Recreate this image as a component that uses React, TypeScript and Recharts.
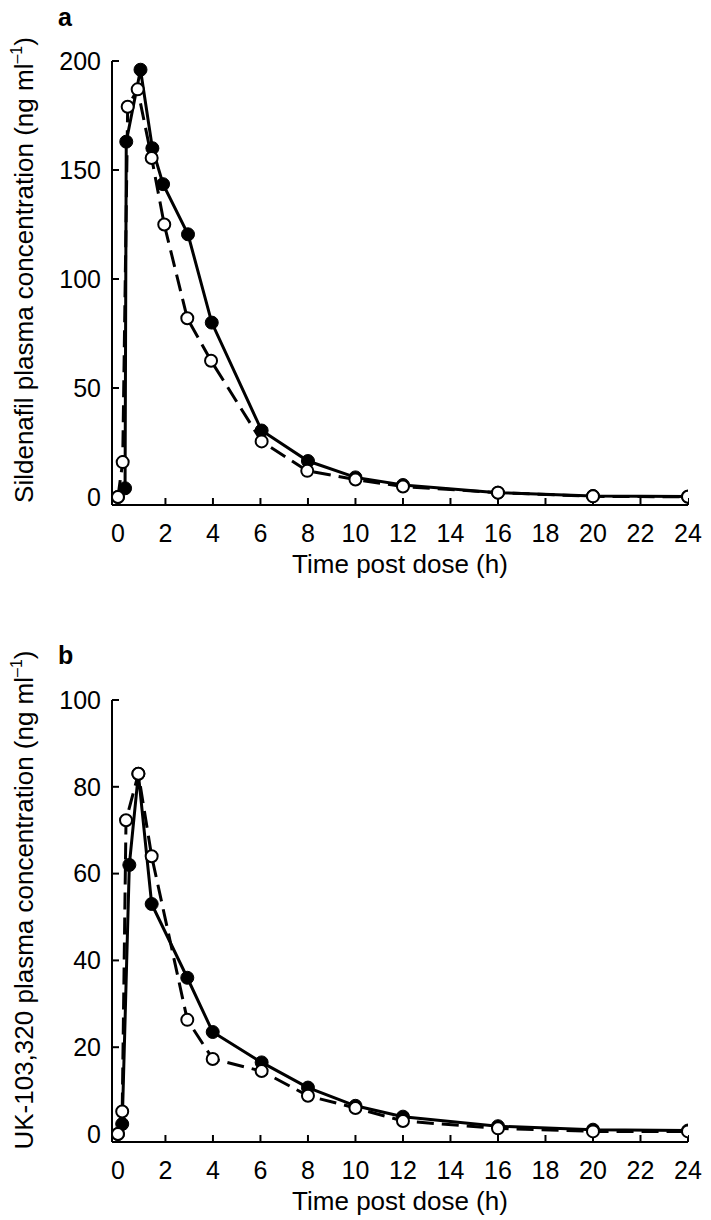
import { LineChart, Line, XAxis, YAxis } from 'recharts';

const FONT = '"Liberation Sans", Arial, Helvetica, sans-serif';

const hourTicks = [0, 2, 4, 6, 8, 10, 12, 14, 16, 18, 20, 22, 24];
const sildenafilTicks = [0, 50, 100, 150, 200];
const metaboliteTicks = [0, 20, 40, 60, 80, 100];

// panel a: sildenafil (filled circles, solid line)
const sildFilledTime = [0, 0.3, 0.35, 0.95, 1.45, 1.9, 2.95, 3.95, 6.05, 8, 10, 12, 16, 20, 24];
const sildFilledConc = [0, 4, 163, 196, 160, 143.5, 120.5, 80, 30.5, 16.5, 9, 5.5, 2, 0.5, 0.2];
// panel a: sildenafil (open circles, dashed line)
const sildOpenTime = [0, 0.2, 0.41, 0.83, 1.42, 1.95, 2.92, 3.92, 6.05, 7.97, 10, 12, 16, 20, 24];
const sildOpenConc = [0, 16, 179, 187, 155.5, 125, 82, 62.5, 25.5, 12, 8, 4.8, 2, 0.3, 0.1];

// panel b: UK-103,320 (filled circles, solid line)
const metFilledTime = [0, 0.18, 0.48, 0.86, 1.42, 2.92, 3.99, 6.05, 8, 10, 12, 16, 20, 24];
const metFilledConc = [0, 2.3, 62, 83, 53, 36, 23.5, 16.5, 10.7, 6.5, 4, 1.8, 1, 0.8];
// panel b: UK-103,320 (open circles, dashed line)
const metOpenTime = [0, 0.18, 0.34, 0.86, 1.42, 2.92, 3.99, 6.05, 8, 10, 12, 16, 20, 24];
const metOpenConc = [0, 5.2, 72.3, 83, 64, 26.3, 17.3, 14.5, 8.8, 6, 3, 1.3, 0.6, 0.6];

const pairs = (t: number[], c: number[]) => t.map((h, i) => ({ h, c: c[i] }));

const tickStyle = { fontSize: 25, fontFamily: FONT, fill: '#000' };

function YTitle({ ax, ay, axisText }: { ax: number; ay: number; axisText: string }) {
  return (
    <text
      x={ax}
      y={ay}
      transform={`rotate(-90 ${ax} ${ay})`}
      textAnchor="middle"
      fontSize={26}
      fontFamily={FONT}
      fill="#000"
    >
      {axisText} (ng ml
      <tspan dy={-11} fontSize={16}>–1</tspan>
      <tspan dy={11}>)</tspan>
    </text>
  );
}

function XTitle({ ax, ay }: { ax: number; ay: number }) {
  return (
    <text x={ax} y={ay} textAnchor="middle" fontSize={26} fontFamily={FONT} fill="#000">
      Time post dose (h)
    </text>
  );
}

type PanelProps = {
  filled: { h: number; c: number }[];
  open: { h: number; c: number }[];
  yTicks: number[];
  yMin: number;
  yMax: number;
  top: number;
  bottom: number;
  yTitle: string;
  yTitleY: number;
};

function Panel({ filled, open, yTicks, yMin, yMax, top, bottom, yTitle, yTitleY }: PanelProps) {
  const h = 610;
  const axisY = h - bottom - 60;
  return (
    <LineChart width={711} height={h} margin={{ top, right: 23, bottom, left: 0 }}>
      <XAxis
        dataKey="h"
        type="number"
        domain={[-0.25, 24]}
        ticks={hourTicks}
        interval={0}
        allowDataOverflow
        height={60}
        axisLine={{ stroke: '#000', strokeWidth: 2 }}
        tickLine={{ stroke: '#000', strokeWidth: 2 }}
        tickSize={-7}
        tickMargin={26}
        tick={tickStyle}
        label={<XTitle ax={400} ay={axisY + 68} />}
      />
      <YAxis
        type="number"
        domain={[yMin, yMax]}
        ticks={yTicks}
        interval={0}
        allowDataOverflow
        width={112}
        axisLine={{ stroke: '#000', strokeWidth: 2 }}
        tickLine={{ stroke: '#000', strokeWidth: 2 }}
        tickSize={-7}
        tickMargin={18}
        tick={tickStyle}
        label={<YTitle ax={33} ay={yTitleY} axisText={yTitle} />}
      />
      <Line
        data={filled}
        dataKey="c"
        type="linear"
        stroke="#000"
        strokeWidth={3}
        dot={{ r: 6.5, fill: '#000', stroke: '#000', strokeWidth: 1 }}
        isAnimationActive={false}
      />
      <Line
        data={open}
        dataKey="c"
        type="linear"
        stroke="#000"
        strokeWidth={3}
        strokeDasharray="17 8"
        dot={{ r: 6, fill: '#fff', stroke: '#000', strokeWidth: 2, strokeDasharray: '' }}
        isAnimationActive={false}
      />
    </LineChart>
  );
}

export default function App() {
  const letter = { position: 'absolute' as const, left: 58, fontSize: 25, lineHeight: '25px', fontWeight: 700, fontFamily: FONT, color: '#000' };
  return (
    <div style={{ position: 'absolute', left: 0, top: 0, width: 711, height: 1220, background: '#fff' }}>
      <div style={{ ...letter, top: 5 }}>a</div>
      <div style={{ ...letter, top: 643 }}>b</div>
      <div style={{ position: 'absolute', left: 0, top: 0 }}>
        <Panel
          filled={pairs(sildFilledTime, sildFilledConc)}
          open={pairs(sildOpenTime, sildOpenConc)}
          yTicks={sildenafilTicks}
          yMin={-3.67}
          yMax={200}
          top={61}
          bottom={45}
          yTitle="Sildenafil plasma concentration"
          yTitleY={270}
        />
      </div>
      <div style={{ position: 'absolute', left: 0, top: 610 }}>
        <Panel
          filled={pairs(metFilledTime, metFilledConc)}
          open={pairs(metOpenTime, metOpenConc)}
          yTicks={metaboliteTicks}
          yMin={-1.84}
          yMax={100}
          top={90}
          bottom={18}
          yTitle="UK-103,320 plasma concentration"
          yTitleY={290}
        />
      </div>
    </div>
  );
}
